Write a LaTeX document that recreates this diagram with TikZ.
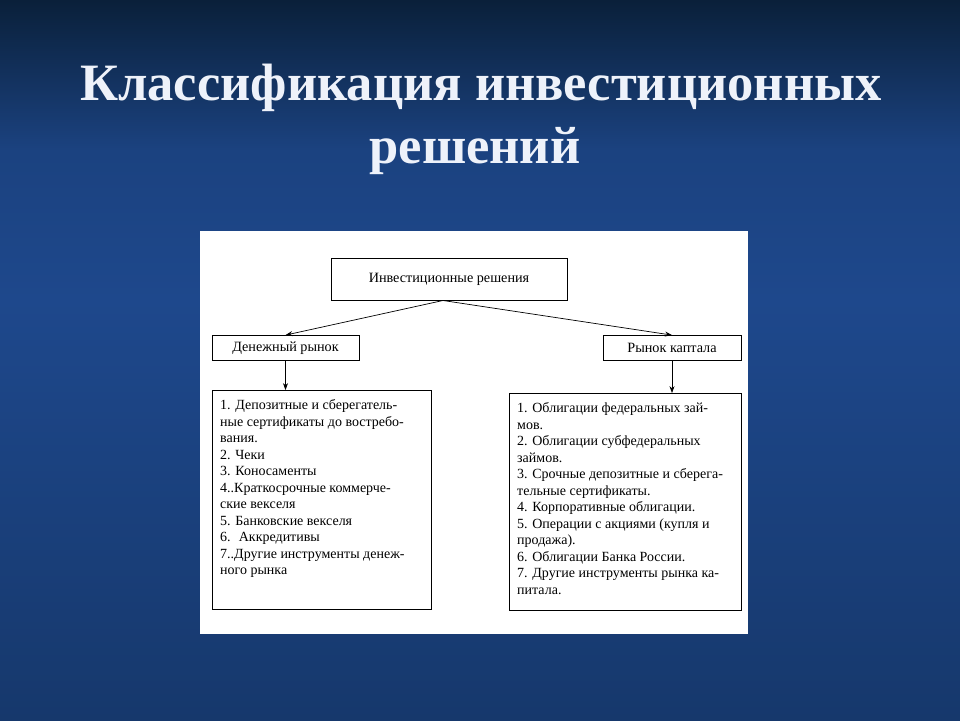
\documentclass[tikz,border=0pt]{standalone}
\usepackage{fontspec}
\setmainfont{Liberation Serif}
\usetikzlibrary{arrows.meta}
\definecolor{bgtop}{RGB}{10,32,58}
\definecolor{bgmid}{RGB}{30,72,140}
\definecolor{bgbot}{RGB}{22,56,108}
\definecolor{titlecol}{RGB}{238,242,250}
\tikzset{
  box/.style={draw=black, line width=0.8pt, fill=white, inner sep=0pt},
  lbl/.style={font=\fontsize{14.2}{16}\selectfont, text=black},
  listtext/.style={font=\fontsize{14}{16.5}\selectfont, align=left, anchor=north west, inner sep=0pt, text=black},
  conn/.style={draw=black, line width=0.7pt, -{Stealth[length=7pt,width=5pt]}},
  ttl/.style={font=\fontsize{52.5}{56}\selectfont\bfseries, text=titlecol}
}
\begin{document}
\begin{tikzpicture}[x=1pt,y=-1pt]
\useasboundingbox (0,0) rectangle (960,720);
\shade[top color=bgtop, bottom color=bgmid, middle color=bgmid!85!bgtop] (0,0) rectangle (960,300);
\shade[top color=bgmid, bottom color=bgbot] (0,300) rectangle (960,720);
% title
\node[ttl] (t1) at (481,88) {Классификация инвестиционных};
\node[ttl] (t2) at (475,151) {решений};
% white panel
\fill[white] (200,231) rectangle (748,634);
% boxes
\node[box, minimum width=236pt, minimum height=42pt, lbl] (top) at (449,279.5) {Инвестиционные решения};
\node[box, minimum width=147pt, minimum height=25pt, lbl] (money) at (285.5,348) {Денежный рынок};
\node[box, minimum width=138pt, minimum height=25pt, lbl] (cap) at (672,348) {Рынок каптала};
\node[box, minimum width=219pt, minimum height=219pt] (lbox) at (321.5,500) {};
\node[box, minimum width=232pt, minimum height=217pt] (rbox) at (625,502) {};
% list texts
\node[listtext] (ltxt) at (220,399.5) {1. Депозитные и сберегатель-\\ные сертификаты до востребо-\\вания.\\2. Чеки\\3. Коносаменты\\4..Краткосрочные коммерче-\\ские векселя\\5. Банковские векселя\\6. \ Аккредитивы\\7..Другие инструменты денеж-\\ного рынка};
\node[listtext] (rtxt) at (517,402.5) {1. Облигации федеральных зай-\\мов.\\2. Облигации субфедеральных\\займов.\\3. Срочные депозитные и сберега-\\тельные сертификаты.\\4. Корпоративные облигации.\\5. Операции с акциями (купля и\\продажа).\\6. Облигации Банка России.\\7. Другие инструменты рынка ка-\\питала.};
% connectors
\coordinate (src) at (443,300.5);
\draw[conn] (src) -- (money.north);
\draw[conn] (src) -- (cap.north);
\draw[conn] (money.south) -- (money.south |- lbox.north);
\draw[conn] (cap.south) -- (cap.south |- rbox.north);
\end{tikzpicture}
\end{document}
